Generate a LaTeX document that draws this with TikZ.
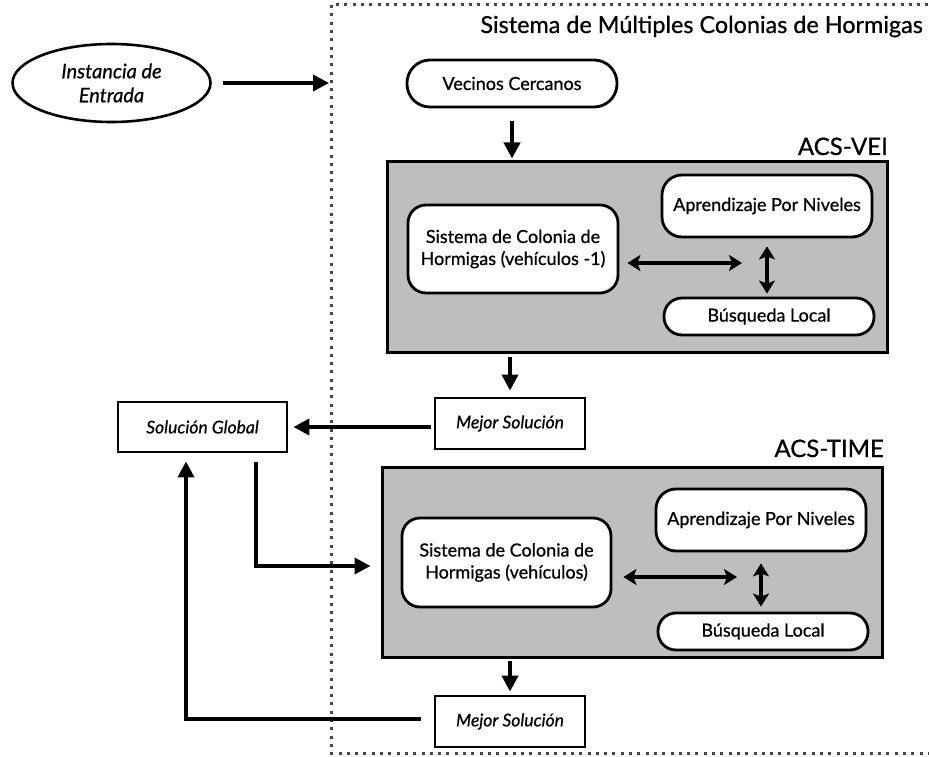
\documentclass[tikz,border=0pt]{standalone}
\usepackage{fontspec}
\setmainfont{Lato}[FakeBold=0.7]
\usetikzlibrary{arrows.meta,shapes.geometric}
\definecolor{boxgray}{RGB}{190,190,190}
\definecolor{dotgray}{RGB}{70,70,70}
\begin{document}
\begin{tikzpicture}[x=1pt,y=-1pt,
  arr/.style={line width=3.8pt,-{Triangle[length=16pt,width=16pt]}},
  darr/.style={line width=3.4pt,{Stealth[length=13pt,width=16pt,inset=3pt]}-{Stealth[length=13pt,width=16pt,inset=3pt]}},
  rbox/.style={draw,line width=2.8pt,fill=white,rounded corners=18pt,align=center,inner sep=0pt,
    font=\fontsize{18}{22}\selectfont},
  sbox/.style={draw,line width=2.8pt,fill=white,align=center,inner sep=0pt,
    font=\itshape\fontsize{17.5}{20}\selectfont},
  graybox/.style={draw,line width=3pt,fill=boxgray,inner sep=0pt},
  lbl/.style={anchor=base east,inner sep=0pt,font=\fontsize{24}{28}\selectfont}
]
\useasboundingbox (0,0) rectangle (929,757);

% dotted frame
\draw[dotgray,line width=3pt,dash pattern=on 3pt off 5.3pt]
  (945,5) -- (331,5) -- (331,753) -- (945,753);
\node[anchor=base east,inner sep=0pt,font=\fontsize{23.4}{28}\selectfont] (title) at (923,33) {Sistema de Múltiples Colonias de Hormigas};

% input
\node[ellipse,draw,line width=2.6pt,minimum width=198pt,minimum height=78pt,inner sep=0pt,
  align=center,font=\itshape\fontsize{20}{24}\selectfont] (inst) at (111.5,83) {Instancia de\\Entrada};
\coordinate (frameIn) at (329,83);
\draw[arr] ([xshift=11pt]inst.east) -- (frameIn);

\node[rbox,rounded corners=23pt,minimum width=210pt,minimum height=47pt] (vc) at (512,83.5) {Vecinos Cercanos};

% ACS-VEI
\node[graybox,minimum width=500pt,minimum height=190pt] (acs1) at (637,257) {};
\node[lbl] (l1) at (888,155) {ACS-VEI};
\node[rbox,minimum width=210pt,minimum height=88pt] (sc1) at (513,249) {Sistema de Colonia de\\Hormigas (vehículos -1)};
\node[rbox,rounded corners=20pt,minimum width=210pt,minimum height=62pt] (ap1) at (767,206) {Aprendizaje Por Niveles};
\node[rbox,minimum width=210pt,minimum height=37pt] (bl1) at (769,316.5) {Búsqueda Local};
\coordinate (h1e) at (742,263);
\draw[darr] ([xshift=8pt]sc1.east |- h1e) -- (h1e);
\draw[darr] ([yshift=-8pt]ap1.south) -- ([yshift=3pt]ap1.south |- bl1.north);

\draw[arr] ([yshift=-13pt]vc.south) -- ([yshift=2pt]vc.south |- acs1.north);

% Mejor solucion 1 and global
\node[sbox,minimum width=150pt,minimum height=51pt] (me1) at (510,423.5) {Mejor Solución};
\node[sbox,minimum width=169pt,minimum height=50pt] (sg) at (202.5,427) {Solución Global};
\draw[arr] ([yshift=-3pt]acs1.south -| me1.north) -- ([yshift=6pt]me1.north);
\draw[arr] ([xshift=-3pt]me1.west |- sg.east) -- ([xshift=5pt]sg.east);

% ACS-TIME
\node[graybox,minimum width=500pt,minimum height=190pt] (acs2) at (632,562) {};
\node[lbl] (l2) at (884,457) {ACS-TIME};
\node[rbox,minimum width=209pt,minimum height=89pt] (sc2) at (506.5,562.5) {Sistema de Colonia de\\Hormigas (vehículos)};
\node[rbox,rounded corners=20pt,minimum width=210pt,minimum height=62pt] (ap2) at (761,520) {Aprendizaje Por Niveles};
\node[rbox,minimum width=210pt,minimum height=37pt] (bl2) at (763,631.5) {Búsqueda Local};
\coordinate (h2e) at (737,577);
\draw[darr] ([xshift=11pt]sc2.east |- h2e) -- (h2e);
\draw[darr] ([yshift=-11pt]ap2.south) -- ([yshift=5pt]ap2.south |- bl2.north);

\draw[arr] ([xshift=53.5pt,yshift=-9pt]sg.south) |- ([xshift=-10pt,yshift=-4pt]acs2.west);

% Mejor solucion 2
\node[sbox,minimum width=150pt,minimum height=51pt] (me2) at (510,721.5) {Mejor Solución};
\draw[arr] ([yshift=-2pt]acs2.south -| me2.north) -- ([yshift=3pt]me2.north);
\draw[arr] ([xshift=-13pt,yshift=2.5pt]me2.west) -| ([xshift=-16.5pt,yshift=-8pt]sg.south);
\end{tikzpicture}
\end{document}
